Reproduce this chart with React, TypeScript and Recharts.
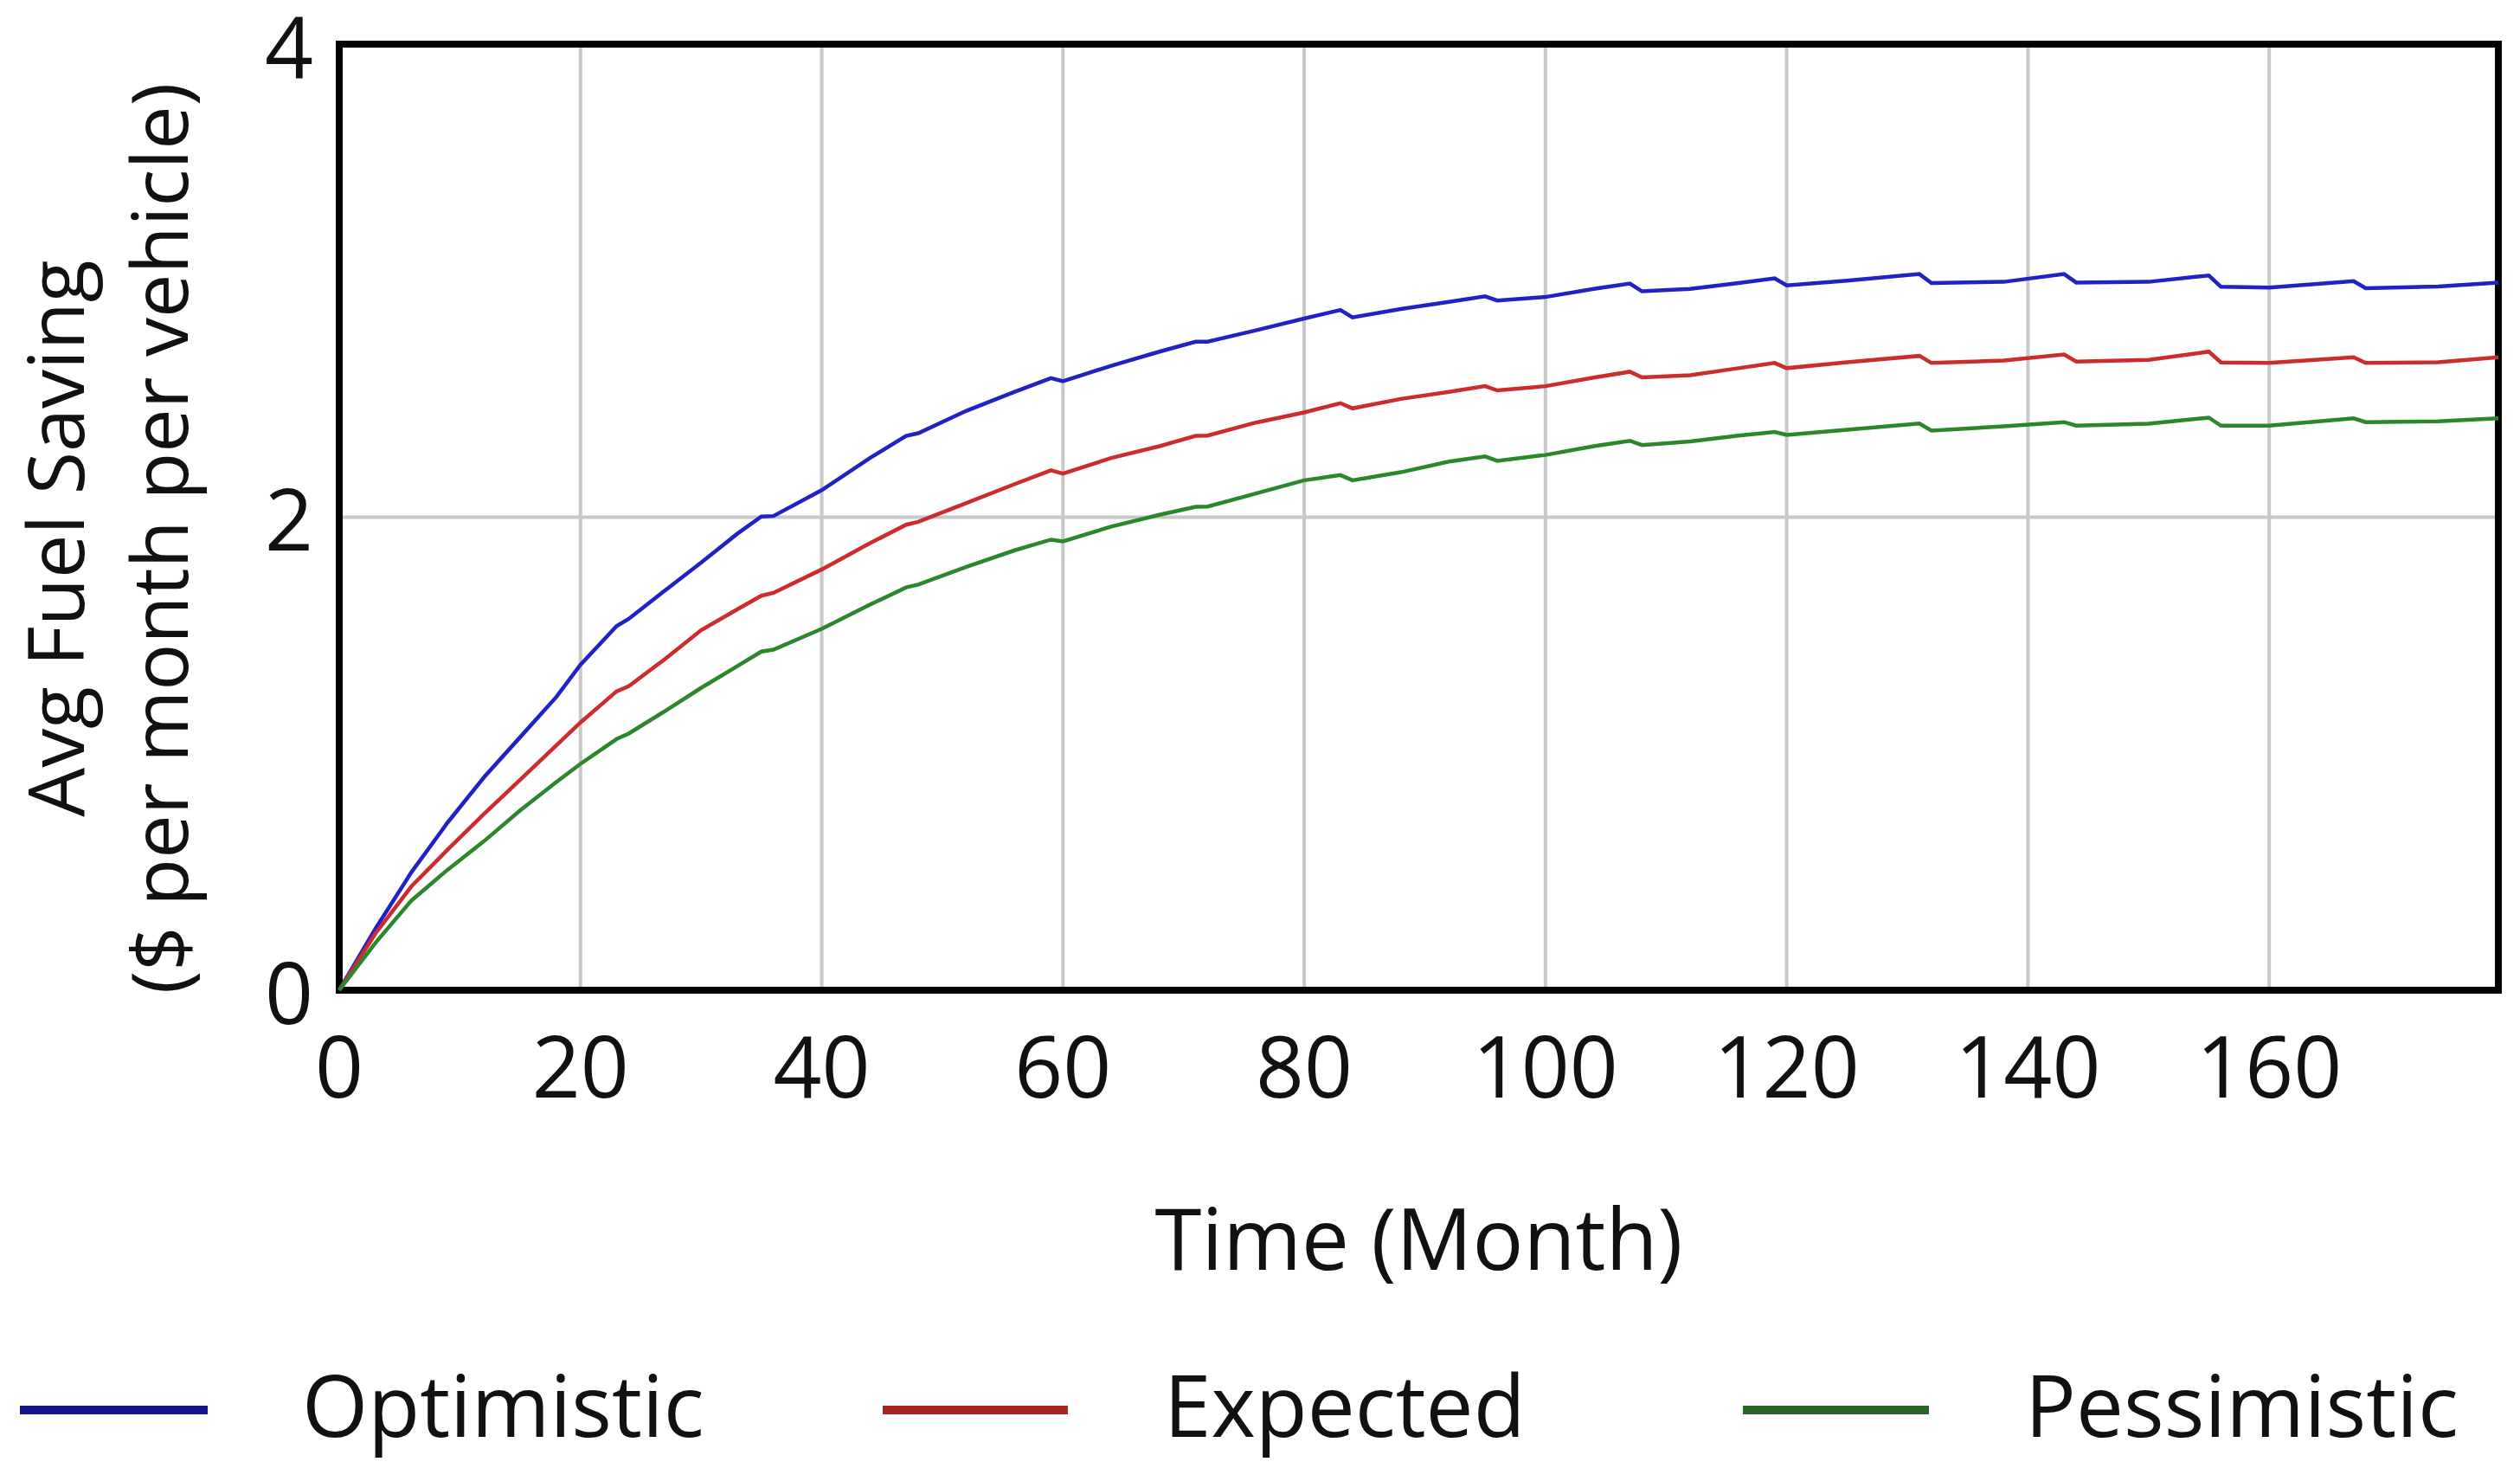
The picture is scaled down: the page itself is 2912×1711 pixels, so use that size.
import React from "react";
import {CartesianGrid, Legend, Line, LineChart, ReferenceArea, XAxis, YAxis} from "recharts";

// sample months (simulation output, monthly steps)
const months = [0, 3, 6, 9, 12, 15, 18, 20, 23, 24, 27, 30, 33, 35, 36, 40, 44, 47, 48, 52, 56, 59, 60, 64, 68, 71, 72, 76, 80, 83, 84, 88, 92, 95, 96, 100, 104, 107, 108, 112, 116, 119, 120, 125, 131, 132, 138, 143, 144, 150, 155, 156, 160, 167, 168, 174, 179];

const optimistic = [0, 0.26, 0.5, 0.71, 0.9, 1.07, 1.24, 1.376, 1.54, 1.57,
    1.69, 1.808, 1.93, 2.003, 2.005, 2.114, 2.25, 2.344, 2.355, 2.45,
    2.53, 2.588, 2.575, 2.64, 2.7, 2.742, 2.742, 2.79, 2.84, 2.876,
    2.845, 2.88, 2.91, 2.934, 2.916, 2.931, 2.965, 2.988, 2.955, 2.965,
    2.99, 3.01, 2.98, 3.0, 3.028, 2.99, 2.995, 3.028, 2.992, 2.995,
    3.022, 2.974, 2.971, 2.998, 2.968, 2.975, 2.992];

const expected = [0, 0.24, 0.44, 0.595, 0.745, 0.89, 1.035, 1.132, 1.264, 1.285,
    1.4, 1.522, 1.61, 1.668, 1.68, 1.779, 1.89, 1.968, 1.98, 2.06,
    2.14, 2.198, 2.184, 2.25, 2.3, 2.344, 2.345, 2.4, 2.443, 2.482,
    2.46, 2.5, 2.53, 2.554, 2.536, 2.554, 2.59, 2.615, 2.591, 2.6,
    2.63, 2.652, 2.63, 2.655, 2.682, 2.652, 2.662, 2.688, 2.658, 2.665,
    2.7, 2.654, 2.652, 2.676, 2.652, 2.655, 2.676];

const pessimistic = [0, 0.2, 0.38, 0.51, 0.63, 0.76, 0.88, 0.957, 1.062, 1.085,
    1.18, 1.278, 1.37, 1.432, 1.44, 1.528, 1.63, 1.703, 1.715, 1.79,
    1.86, 1.905, 1.898, 1.96, 2.01, 2.044, 2.045, 2.1, 2.156, 2.178,
    2.156, 2.19, 2.235, 2.257, 2.238, 2.263, 2.3, 2.323, 2.305, 2.32,
    2.345, 2.36, 2.348, 2.37, 2.396, 2.366, 2.384, 2.402, 2.387, 2.395,
    2.421, 2.387, 2.387, 2.418, 2.402, 2.405, 2.418];

const xTicks = [0, 20, 40, 60, 80, 100, 120, 140, 160];
const yTicks = [0, 2, 4];

const series = [
    {key: "optimistic", name: "Optimistic", color: "#2222c4", legendColor: "#14148c"},
    {key: "expected", name: "Expected", color: "#cc2c2c", legendColor: "#a82424"},
    {key: "pessimistic", name: "Pessimistic", color: "#2c862c", legendColor: "#286628"},
];

const data = months.map((m, i) => ({
    month: m,
    optimistic: optimistic[i],
    expected: expected[i],
    pessimistic: pessimistic[i],
}));

const FONT = "'Open Sans', 'Noto Sans', sans-serif";

const XTitle = (props: any) => {
    const vb = props.viewBox || {x: 392, y: 1144, width: 2495};
    return <text x={vb.x + vb.width / 2} y={1467} textAnchor="middle"
                 fontFamily={FONT} fontSize={98} fill="#111">Time (Month)</text>;
};

const YTitle = () => {
    const cy = 622;
    return <g fontFamily={FONT} fontSize={90} fill="#111">
        <text x={97} y={cy} textAnchor="middle" transform={`rotate(-90, 97, ${cy})`}>Avg Fuel Saving</text>
        <text x={217} y={cy} textAnchor="middle" transform={`rotate(-90, 217, ${cy})`}>($ per month per vehicle)</text>
    </g>;
};

// y tick: digits centred on the tick, nudged a little down like the original
const YTick = (props: any) => {
    const {x, y, payload} = props;
    return <text x={x} y={y + 4} dy="0.355em" textAnchor="end"
                 fontFamily={FONT} fontSize={98} fill="#111">{payload.value}</text>;
};

const LegendRow = () => {
    const items = [
        {x1: 23, x2: 240, tx: 349},
        {x1: 1020, x2: 1234, tx: 1345},
        {x1: 2014, x2: 2229, tx: 2340},
    ];
    return <svg width={2912} height={207} style={{display: "block"}}>
        {series.map((s, i) => (
            <g key={s.key}>
                <line x1={items[i].x1} x2={items[i].x2} y1={125} y2={125}
                      stroke={s.legendColor} strokeWidth={10} />
                <text x={items[i].tx} y={156} fontFamily={FONT} fontSize={98} fill="#111">{s.name}</text>
            </g>
        ))}
    </svg>;
};

const App: React.FC = () => {
    return <div style={{position: "absolute", left: 0, top: 0, width: 2912, height: 1711, background: "#fff"}}>
        <LineChart width={2912} height={1711} data={data}
                   margin={{top: 51, right: 25, left: 0, bottom: 0}}>
            <CartesianGrid stroke="#c8c8c8" strokeWidth={4} />
            <XAxis dataKey="month" type="number" domain={[0, 179]} ticks={xTicks}
                   height={360} tickSize={0} tickMargin={54} axisLine={false} tickLine={false}
                   tick={{fontSize: 98, fontFamily: FONT, fill: "#111"}}
                   label={<XTitle />} />
            <YAxis type="number" domain={[0, 4]} ticks={yTicks} width={392}
                   tickSize={0} tickMargin={30} axisLine={false} tickLine={false}
                   tick={<YTick />}
                   label={<YTitle />} />
            {series.map(s => (
                <Line key={s.key} type="linear" dataKey={s.key} name={s.name} stroke={s.color}
                      strokeWidth={4.5} dot={false} activeDot={false} isAnimationActive={false} />
            ))}
            <ReferenceArea x1={0} x2={179} y1={0} y2={4} fill="none" stroke="#000"
                           strokeWidth={8} ifOverflow="visible" />
            <Legend verticalAlign="bottom" height={207} content={<LegendRow />}
                    wrapperStyle={{left: 0, width: 2912, height: 207}} />
        </LineChart>
    </div>;
}

export default App;
